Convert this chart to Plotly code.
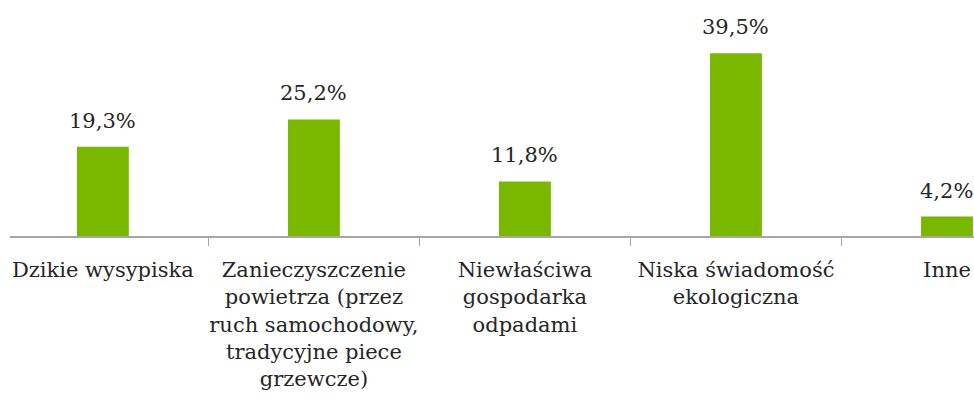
import plotly.graph_objects as go

categories = [
    "Dzikie wysypiska",
    "Zanieczyszczenie<br>powietrza (przez<br>ruch samochodowy,<br>tradycyjne piece<br>grzewcze)",
    "Niewłaściwa<br>gospodarka<br>odpadami",
    "Niska świadomość<br>ekologiczna",
    "Inne",
]
values = [19.3, 25.2, 11.8, 39.5, 4.2]

FONT = "DejaVu Serif"
BAR_COLOR = "#7ab800"
TEXT_COLOR = "#262626"

fig = go.Figure(
    go.Bar(
        x=categories,
        y=values,
        marker=dict(color=BAR_COLOR, line=dict(width=0)),
        hoverinfo="skip",
    )
)

# value labels above each bar, Polish decimal comma
for cat, v in zip(categories, values):
    fig.add_annotation(
        x=cat, y=v, xref="x", yref="y",
        text=f"{v:.1f}%".replace(".", ","),
        showarrow=False, yanchor="bottom", yshift=12,
        font=dict(family=FONT, size=21, color=TEXT_COLOR),
    )

fig.update_layout(
    width=974, height=399,
    margin=dict(l=10, r=0, t=0, b=163),
    paper_bgcolor="white", plot_bgcolor="white",
    bargap=0.754,
    showlegend=False,
    font=dict(family=FONT, size=21, color=TEXT_COLOR),
)
fig.update_xaxes(
    type="category",
    range=[-0.44, 4.128],
    tickson="boundaries",
    ticks="outside", ticklen=8, tickcolor="#a6a6a6", tickwidth=1,
    showline=True, linecolor="#a6a6a6", linewidth=1.5,
    showgrid=False, zeroline=False,
    tickangle=0,
    ticklabelstandoff=14,
)
fig.update_yaxes(
    range=[0, 51], visible=False, showgrid=False, zeroline=False,
)

fig.write_html("out.html")
